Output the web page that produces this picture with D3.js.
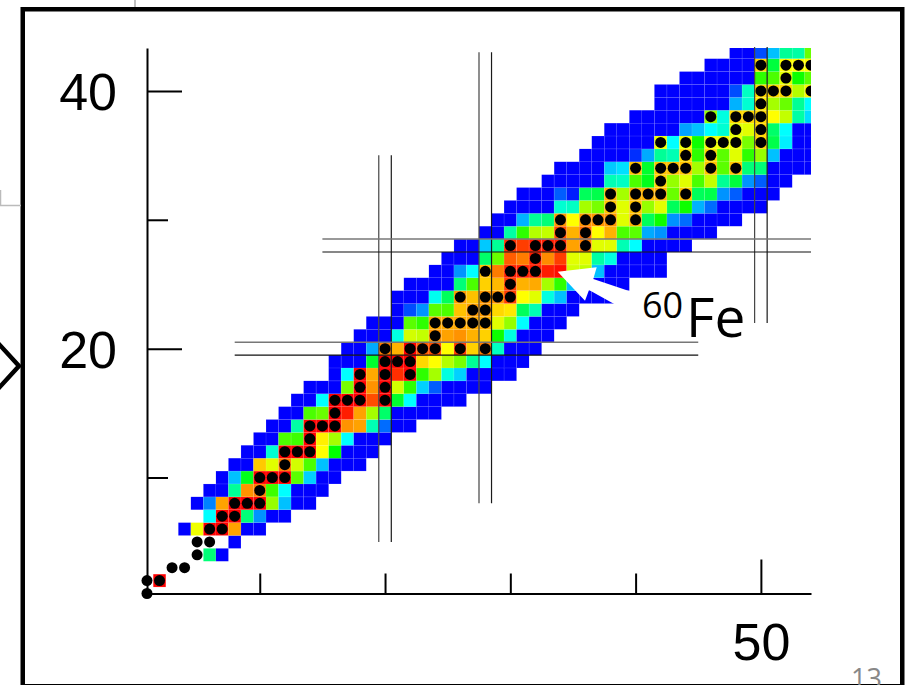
<!DOCTYPE html>
<html>
<head>
<meta charset="utf-8">
<script src="https://cdn.jsdelivr.net/npm/d3@7"></script>
<style>
  html, body { margin: 0; padding: 0; background: #fff; }
  svg { display: block; }
</style>
</head>
<body>
<div id="chart-area"></div>
<script>
// one row of cells per proton number Z, first cell at rowStartN, then one level per neutron number
var rowZ = [2, 4, 5, 6, 7, 8, 9, 10, 11, 12, 13, 14, 15, 16, 17, 18, 19, 20, 21, 22,
    23, 24, 25, 26, 27, 28, 29, 30, 31, 32, 33, 34, 35, 36, 37, 38, 39, 40, 41, 42, 43];
var rowStartN = [2, 6, 8, 4, 6, 5, 6, 7, 8, 9, 10, 11, 12, 13, 14, 16, 16, 17, 18, 19,
    21, 21, 22, 24, 25, 26, 28, 29, 30, 31, 33, 34, 36, 37, 38, 40, 42, 42, 44, 46, 48];
// levels run 0 (blue) to 100 (red)
var rowLevels = [
    [100],
    [42, 0],
    [0],
    [0, 66, 100, 100, 79, 0, 0],
    [33, 100, 100, 42, 19, 0, 0],
    [0, 17, 79, 100, 100, 100, 60, 25, 0, 0],
    [0, 0, 40, 81, 84, 54, 33, 0, 0, 0],
    [0, 25, 48, 100, 100, 100, 56, 27, 0, 0],
    [0, 0, 74, 65, 84, 64, 55, 25, 0, 0, 0],
    [0, 0, 36, 100, 100, 100, 67, 50, 0, 0, 0],
    [0, 0, 55, 54, 100, 69, 61, 33, 0, 0, 0],
    [0, 0, 39, 100, 100, 100, 81, 79, 38, 14, 0, 0],
    [0, 0, 55, 57, 100, 96, 79, 61, 43, 0, 0, 0, 0],
    [0, 0, 33, 100, 100, 100, 90, 100, 47, 33, 0, 0, 0, 0],
    [0, 0, 0, 58, 100, 81, 100, 64, 53, 27, 12, 0, 0, 0, 0],
    [0, 33, 100, 78, 100, 94, 100, 53, 61, 35, 27, 0, 0, 0, 0],
    [0, 0, 0, 47, 100, 100, 100, 72, 67, 62, 58, 40, 33, 0, 0, 0],
    [0, 0, 22, 84, 77, 100, 88, 90, 67, 92, 73, 84, 37, 0, 0, 0],
    [0, 0, 0, 35, 64, 63, 81, 79, 81, 77, 73, 51, 35, 0, 0, 0],
    [0, 0, 0, 56, 53, 78, 78, 78, 78, 78, 65, 60, 33, 0, 0, 0],
    [0, 10, 19, 56, 55, 75, 80, 80, 72, 70, 44, 38, 0, 0, 0],
    [0, 0, 0, 34, 44, 80, 75, 81, 81, 92, 67, 65, 35, 25, 0, 0, 0, 0],
    [0, 0, 0, 0, 42, 55, 73, 76, 92, 77, 78, 61, 53, 25, 0, 0, 0, 0],
    [0, 0, 19, 33, 75, 84, 96, 96, 96, 96, 98, 64, 63, 25, 0, 0, 0, 0, 0],
    [0, 0, 0, 43, 57, 88, 84, 96, 82, 92, 65, 65, 39, 35, 0, 0, 0, 0],
    [0, 0, 26, 40, 94, 92, 96, 96, 96, 79, 84, 65, 65, 38, 33, 0, 0, 0, 0],
    [0, 0, 39, 53, 62, 63, 90, 77, 86, 67, 77, 55, 56, 22, 19, 0, 0, 0, 0],
    [0, 0, 23, 40, 42, 81, 67, 81, 81, 81, 65, 77, 44, 51, 19, 14, 0, 0, 0, 0],
    [0, 0, 0, 0, 36, 37, 61, 58, 75, 65, 75, 60, 65, 44, 51, 23, 14, 0, 0, 0, 0],
    [0, 0, 0, 12, 4, 44, 45, 77, 61, 77, 77, 77, 57, 75, 44, 45, 19, 12, 0, 0, 0],
    [0, 0, 0, 0, 0, 38, 37, 55, 48, 73, 60, 65, 55, 63, 40, 46, 19, 12, 0, 0],
    [0, 0, 0, 0, 26, 29, 75, 47, 75, 75, 75, 61, 75, 56, 75, 42, 42, 0, 0, 0, 0],
    [0, 0, 0, 0, 6, 22, 40, 38, 72, 53, 72, 56, 65, 53, 60, 25, 0, 0, 0],
    [0, 0, 0, 0, 0, 66, 33, 66, 51, 66, 66, 66, 58, 72, 45, 31, 0, 0],
    [0, 0, 0, 0, 0, 0, 21, 25, 33, 36, 65, 65, 72, 43, 33, 0, 0],
    [0, 0, 0, 0, 0, 0, 60, 35, 72, 72, 72, 67, 63, 39, 29],
    [0, 0, 0, 0, 0, 0, 23, 36, 70, 61, 57, 40, 33],
    [0, 0, 0, 0, 0, 0, 10, 37, 72, 72, 72, 62, 68],
    [0, 0, 0, 0, 0, 0, 53, 55, 65, 51, 56],
    [0, 0, 0, 0, 72, 46, 67, 67, 67],
    [0, 0, 10, 25, 40, 39, 57]
];

// black dots, neutron numbers for Z = 1, 2, 3 ...
var dotN = [
    [1], [1, 2], [3, 4], [5], [5, 6], [6, 7], [7, 8], [8, 9, 10], [10], [10, 11, 12],
    [12], [12, 13, 14], [14], [14, 15, 16], [16], [16, 17, 18, 20], [18, 20], [18, 20, 22],
    [20, 21, 22], [20, 22, 23, 24, 26, 28], [24], [24, 25, 26, 27, 28], [27, 28],
    [26, 28, 29, 30], [30], [28, 30, 31, 32], [32], [30, 32, 33, 34, 36], [34, 36],
    [34, 36, 37, 38, 40], [38, 40], [38, 40, 41, 42, 44], [42], [40, 42, 43, 44, 46, 48],
    [44, 46], [42, 44, 46, 47, 48, 50], [48, 50], [46, 48, 49, 50], [50], [50, 51, 52, 54],
    [52], [50, 52, 53, 54]
];

var xTicks = [10, 20, 30, 40, 50];
var yTicks = [10, 20, 30, 40];

// closed shells: pairs of thin lines either side, with the span each pair covers
var shellN = [20, 28, 50];
var shellNSpan = [[5, 35], [8, 43], [22, 43.4]];
var shellZ = [20, 28];
var shellZSpan = [[8, 45], [15, 54]];

var width = 917,
    height = 685;

var svg = d3.select("#chart-area")
    .append("svg")
        .attr("width", width)
        .attr("height", height);

var x = d3.scaleLinear().domain([1, 54]).range([147, 811]);
var y = d3.scaleLinear().domain([1, 43.33]).range([593.5, 48]);

var color = d3.scaleLinear()
    .domain([0, 33, 50, 67, 100])
    .range(["#0000ff", "#00ffff", "#00ff00", "#ffff00", "#ff0000"]);

svg.append("clipPath")
    .attr("id", "plot-clip")
    .append("rect")
        .attr("x", 130)
        .attr("y", 48)
        .attr("width", 681)
        .attr("height", 560);

// the reference is a slightly soft screenshot
svg.append("filter")
    .attr("id", "soft")
    .append("feGaussianBlur")
        .attr("stdDeviation", 0.35);

var plot = svg.append("g").attr("clip-path", "url(#plot-clip)");

// flatten the rows into cells
var cells = [];
rowZ.forEach((z, i) => {
    rowLevels[i].forEach((level, j) => {
        cells.push({ n: rowStartN[i] + j, z: z, level: level });
    });
});

var cellW = x(1) - x(0),
    cellH = y(0) - y(1);

plot.append("g")
    .attr("filter", "url(#soft)")
    .selectAll("rect.cell")
    .data(cells)
    .enter()
    .append("rect")
        .attr("class", "cell")
        .attr("x", d => x(d.n - 0.5))
        .attr("y", d => y(d.z + 0.5))
        .attr("width", cellW)
        .attr("height", cellH)
        .attr("fill", d => color(d.level))
        .attr("stroke", "#fff")
        .attr("stroke-opacity", 0.1)
        .attr("stroke-width", 0.7);

// shell lines sit over the cells and under the dots
shellN.forEach((n, i) => {
    [n - 0.5, n + 0.5].forEach((pos, k) => {
        svg.append("line")
            .attr("x1", x(pos))
            .attr("x2", x(pos))
            .attr("y1", y(shellNSpan[i][0]))
            .attr("y2", y(shellNSpan[i][1]))
            .attr("stroke", k == 0 ? "#444" : "#1a1a1a")
            .attr("stroke-width", 1.2);
    });
});
shellZ.forEach((z, i) => {
    [z + 0.5, z - 0.5].forEach((pos, k) => {
        svg.append("line")
            .attr("x1", x(shellZSpan[i][0]))
            .attr("x2", x(shellZSpan[i][1]))
            .attr("y1", y(pos))
            .attr("y2", y(pos))
            .attr("stroke", k == 0 ? "#777" : "#111")
            .attr("stroke-width", k == 0 ? 1.5 : 1.2);
    });
});

var dots = [];
dotN.forEach((list, i) => {
    list.forEach(n => dots.push({ n: n, z: i + 1 }));
});

plot.selectAll("circle")
    .data(dots)
    .enter()
    .append("circle")
        .attr("cx", d => x(d.n))
        .attr("cy", d => y(d.z))
        .attr("r", 5.5)
        .attr("fill", "#000");

// axes
var xAxisCall = d3.axisTop(x)
    .tickValues(xTicks)
    .tickSizeOuter(0)
    .tickFormat(d => d == 50 ? d : "");
var gx = svg.append("g")
    .attr("transform", "translate(0," + y(1) + ")")
    .call(xAxisCall);
gx.selectAll(".tick line")
    .attr("y2", d => d == 50 ? -34 : -20);
gx.selectAll(".tick text")
    .attr("y", 66.5)
    .attr("dy", 0)
    .attr("text-anchor", "middle");

var yAxisCall = d3.axisRight(y)
    .tickValues(yTicks)
    .tickSizeOuter(0)
    .tickFormat(d => d % 20 == 0 ? d : "");
var gy = svg.append("g")
    .attr("transform", "translate(" + x(1) + ",0)")
    .call(yAxisCall);
gy.selectAll(".tick line")
    .attr("x2", d => d % 20 == 0 ? 35 : 21);
gy.selectAll(".tick text")
    .attr("x", -30)
    .attr("dy", 0)
    .attr("y", 18.6)
    .attr("text-anchor", "end");

svg.selectAll(".domain, .tick line")
    .attr("stroke", "#000")
    .attr("stroke-width", 2);
svg.selectAll(".tick text")
    .attr("fill", "#000")
    .attr("font-family", "'Liberation Sans', Arial, sans-serif")
    .attr("font-size", 52);

// arrow and label for 60Fe
svg.append("polygon")
    .attr("points", "557.7,271.7 596.7,267.3 593.3,279 635,293 625,310 589,290 585,300.7")
    .attr("fill", "#fff");
svg.append("text")
    .attr("x", 642)
    .attr("y", 318)
    .attr("font-family", "'Open Sans', sans-serif")
    .attr("font-size", 36)
    .attr("fill", "#000")
    .text("60");
svg.append("text")
    .attr("x", 686)
    .attr("y", 337)
    .attr("font-family", "'Open Sans', sans-serif")
    .attr("font-size", 55)
    .attr("fill", "#000")
    .text("Fe");

// slide frame and the bits of slide around it
svg.append("rect")
    .attr("x", 22.75)
    .attr("y", 9.25)
    .attr("width", 879.5)
    .attr("height", 677)
    .attr("fill", "none")
    .attr("stroke", "#000")
    .attr("stroke-width", 4.5);
svg.append("line")
    .attr("x1", 135).attr("x2", 135).attr("y1", 0).attr("y2", 7)
    .attr("stroke", "#aaa").attr("stroke-width", 1.5);
svg.append("path")
    .attr("d", "M0.5,190V205.5H21")
    .attr("fill", "none")
    .attr("stroke", "#bbb")
    .attr("stroke-width", 1.5);
svg.append("path")
    .attr("d", "M-3,342L19,366L-3,390")
    .attr("fill", "none")
    .attr("stroke", "#000")
    .attr("stroke-width", 4.5);
svg.append("text")
    .attr("x", 851)
    .attr("y", 688)
    .attr("font-family", "'Open Sans', sans-serif")
    .attr("font-size", 27)
    .attr("fill", "#888")
    .text("13");
</script>
</body>
</html>
